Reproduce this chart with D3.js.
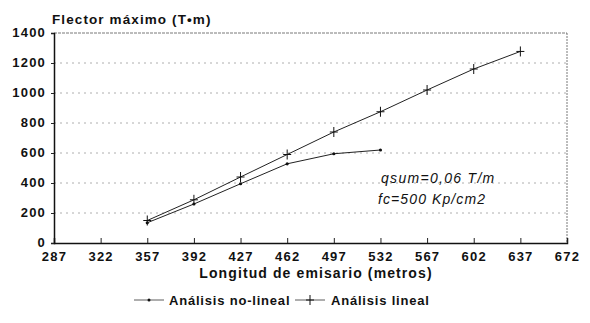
<!DOCTYPE html>
<html><head><meta charset="utf-8">
<script src="https://cdn.jsdelivr.net/npm/d3@7"></script>
<style>
body{margin:0;background:#fff;}
text{font-family:"Liberation Sans",Arial,sans-serif;fill:#111;}
</style></head>
<body><svg id="c" width="590" height="323"></svg>
<script>
const xTicks = [287,322,357,392,427,462,497,532,567,602,637,672];
const yTicks = [0,200,400,600,800,1000,1200,1400];
const xNoLineal = [357,392,427,462,497,532];
const yNoLineal = [135,260,395,528,595,620];
const xLineal = [357,392,427,462,497,532,567,602,637];
const yLineal = [150,288,440,590,740,875,1020,1160,1277];

const svg = d3.select("#c");
const m = {l:54, r:567, t:33, b:243};
const x = d3.scaleLinear().domain([287,672]).range([m.l,m.r]);
const y = d3.scaleLinear().domain([0,1400]).range([m.b,m.t]);

// gridlines
svg.append("g").selectAll("line").data(yTicks.filter(d=>d>0&&d<1400)).join("line")
  .attr("x1",m.l).attr("x2",m.r).attr("y1",d=>y(d)).attr("y2",d=>y(d))
  .attr("stroke","#999").attr("stroke-width",0.8).attr("stroke-dasharray","2,4");

// frame top/right
svg.append("line").attr("x1",m.l).attr("x2",m.r).attr("y1",m.t).attr("y2",m.t)
  .attr("stroke","#555").attr("stroke-width",0.8).attr("stroke-dasharray","3,1");
svg.append("line").attr("x1",m.r).attr("x2",m.r).attr("y1",m.t).attr("y2",m.b)
  .attr("stroke","#555").attr("stroke-width",0.8).attr("stroke-dasharray","2,1");

// axes
const xa = svg.append("g").attr("transform",`translate(0,${m.b})`)
  .call(d3.axisBottom(x).tickValues(xTicks).tickSize(-5).tickPadding(11).tickFormat(d3.format("d")));
const ya = svg.append("g").attr("transform",`translate(${m.l},0)`)
  .call(d3.axisLeft(y).tickValues(yTicks).tickSize(3).tickPadding(5).tickFormat(d3.format("d")));
[xa,ya].forEach(a=>{
  a.select(".domain").attr("stroke","#111").attr("stroke-width",1.5);
  a.selectAll(".tick line").attr("stroke","#222");
  a.selectAll("text").style("font-size","13px").style("font-weight","bold")
   .style("letter-spacing","1.2px").attr("fill","#111").style("font-family","Liberation Sans, Arial");
});
xa.selectAll(".tick text").attr("dy","0.55em");
ya.selectAll(".tick text").attr("dy","0.3em");

// lines
const line = d3.line().x(d=>x(d[0])).y(d=>y(d[1]));
const nl = xNoLineal.map((v,i)=>[v,yNoLineal[i]]);
const ln = xLineal.map((v,i)=>[v,yLineal[i]]);
svg.append("path").attr("d",line(nl)).attr("fill","none").attr("stroke","#222").attr("stroke-width",1);
svg.append("path").attr("d",line(ln)).attr("fill","none").attr("stroke","#222").attr("stroke-width",1);
svg.append("g").selectAll("circle").data(nl).join("circle")
  .attr("cx",d=>x(d[0])).attr("cy",d=>y(d[1])).attr("r",1.6).attr("fill","#111");
const plus = (g,cx,cy)=>{
  g.append("line").attr("x1",cx-4).attr("x2",cx+4).attr("y1",cy).attr("y2",cy).attr("stroke","#111").attr("stroke-width",1);
  g.append("line").attr("x1",cx).attr("x2",cx).attr("y1",cy-5).attr("y2",cy+5).attr("stroke","#111").attr("stroke-width",1);
};
const pg = svg.append("g");
ln.forEach(d=>plus(pg,x(d[0]),y(d[1])));

// titles
svg.append("text").attr("x",52).attr("y",24).text("Flector máximo (T•m)")
  .style("font-size","13.5px").style("font-weight","bold").style("letter-spacing","1.1px");
svg.append("text").attr("x",316).attr("y",278).attr("text-anchor","middle")
  .text("Longitud de emisario (metros)")
  .style("font-size","14px").style("font-weight","bold").style("letter-spacing","1.1px");

// annotation
svg.append("text").attr("x",381).attr("y",183).text("qsum=0,06 T/m")
  .style("font-size","14px").style("font-style","italic").style("letter-spacing","1.3px");
svg.append("text").attr("x",378).attr("y",204).text("fc=500 Kp/cm2")
  .style("font-size","14px").style("font-style","italic").style("letter-spacing","1.1px");

// legend
const lg = svg.append("g");
lg.append("line").attr("x1",134).attr("x2",164).attr("y1",300).attr("y2",300).attr("stroke","#333").attr("stroke-width",0.8);
lg.append("circle").attr("cx",149).attr("cy",300).attr("r",1.5).attr("fill","#111");
lg.append("text").attr("x",169).attr("y",305).text("Análisis no-lineal")
  .style("font-size","13px").style("font-weight","bold").style("letter-spacing","0.8px");
lg.append("line").attr("x1",295).attr("x2",325).attr("y1",300).attr("y2",300).attr("stroke","#333").attr("stroke-width",0.8);
plus(lg,310,300);
lg.append("text").attr("x",331).attr("y",305).text("Análisis lineal")
  .style("font-size","13px").style("font-weight","bold").style("letter-spacing","0.8px");
</script></body></html>
